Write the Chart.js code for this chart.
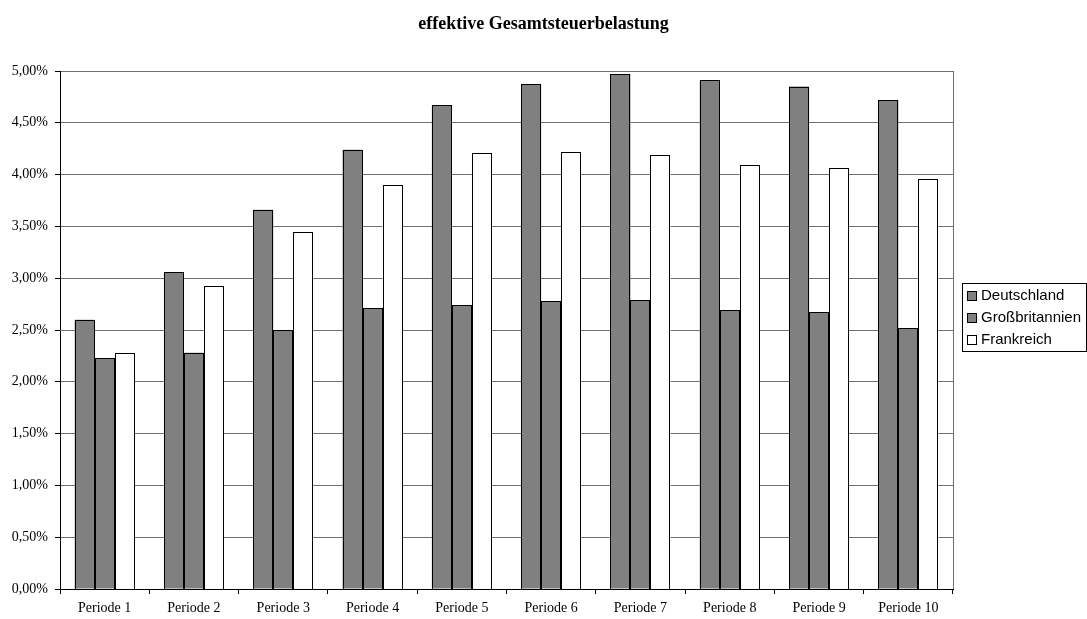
<!DOCTYPE html>
<html><head><meta charset="utf-8">
<script src="https://cdn.jsdelivr.net/npm/chart.js@4/dist/chart.umd.min.js"></script>
<style>
html,body{margin:0;padding:0;background:#fff;}
#wrap{position:relative;width:1087px;height:619px;}
#title{position:absolute;left:0;width:1087px;top:13px;text-align:center;font:bold 18px "Liberation Serif",serif;color:#000;}
#legend{position:absolute;left:962px;top:283px;width:125px;height:69px;border:1px solid #000;box-sizing:border-box;font:15px "Liberation Sans",Arial,sans-serif;color:#000;padding-top:0px;}
#legend div{height:22px;line-height:22px;padding-left:4px;white-space:nowrap;}
#legend span{display:inline-block;width:10px;height:10px;border:1px solid #000;box-sizing:border-box;margin-right:4px;vertical-align:-1px;}
</style></head>
<body><div id="wrap">
<canvas id="c" width="1087" height="619"></canvas>
<div id="title">effektive Gesamtsteuerbelastung</div>
<div id="legend"></div>
</div>
<script>
const categories = ["Periode 1","Periode 2","Periode 3","Periode 4","Periode 5","Periode 6","Periode 7","Periode 8","Periode 9","Periode 10"];
const seriesNames = ["Deutschland","Großbritannien","Frankreich"];
const deutschland = [2.60,3.06,3.66,4.24,4.67,4.87,4.97,4.91,4.85,4.72];
const grossbritannien = [2.23,2.28,2.50,2.71,2.74,2.78,2.79,2.69,2.67,2.52];
const frankreich = [2.28,2.92,3.45,3.90,4.21,4.22,4.19,4.09,4.06,3.96];
const fills = ["#808080","#808080","#ffffff"];

const lg = document.getElementById('legend');
seriesNames.forEach((n,i)=>{const d=document.createElement('div');d.innerHTML='<span style="background:'+fills[i]+'"></span>'+n;lg.appendChild(d);});

const frame = {id:'frame', afterDatasetsDraw(ch){
  const a=ch.chartArea,c=ch.ctx;c.save();
  c.strokeStyle='#707070';c.lineWidth=1;c.beginPath();c.moveTo(Math.round(a.right)+0.5,a.top);c.lineTo(Math.round(a.right)+0.5,a.bottom);c.stroke();
  c.strokeStyle='#000';
  ch.data.datasets.forEach((ds,i)=>{
    ch.getDatasetMeta(i).data.forEach(el=>{
      const p=el.getProps(['x','y','base','width'],true);
      const l=Math.round(p.x-p.width/2),r=Math.round(p.x+p.width/2),t=Math.round(p.y),b=Math.round(p.base);
      c.strokeRect(l+0.5,t+0.5,r-l-1,b-t);
    });
  });
  c.restore();}};

new Chart(document.getElementById('c'),{
  type:'bar',
  data:{labels:categories,datasets:[
    {label:seriesNames[0],data:deutschland,backgroundColor:fills[0]},
    {label:seriesNames[1],data:grossbritannien,backgroundColor:fills[1]},
    {label:seriesNames[2],data:frankreich,backgroundColor:fills[2]}
  ]},
  options:{
    responsive:false,animation:false,
    layout:{padding:{top:71,right:134,left:0,bottom:0}},
    datasets:{bar:{categoryPercentage:0.672,barPercentage:1.0,borderWidth:0}},
    plugins:{legend:{display:false},title:{display:false},tooltip:{enabled:false}},
    scales:{
      x:{grid:{offset:true,drawOnChartArea:false,drawTicks:true,tickLength:5,color:'#000'},
         border:{color:'#000'},
         ticks:{color:'#000',font:{family:'"Liberation Serif", serif',size:14},padding:6,maxRotation:0},
         afterFit(s){s.height=30;}},
      y:{min:0,max:5,grid:{color:'#707070',tickLength:5,tickColor:'#000'},
         border:{color:'#000'},
         ticks:{stepSize:0.5,color:'#000',font:{family:'"Liberation Serif", serif',size:14},padding:7,
           callback:v=>v.toFixed(2).replace('.',',')+'%'},
         afterFit(s){s.width=60;}}
    }
  },
  plugins:[frame]
});
</script>
</body></html>
